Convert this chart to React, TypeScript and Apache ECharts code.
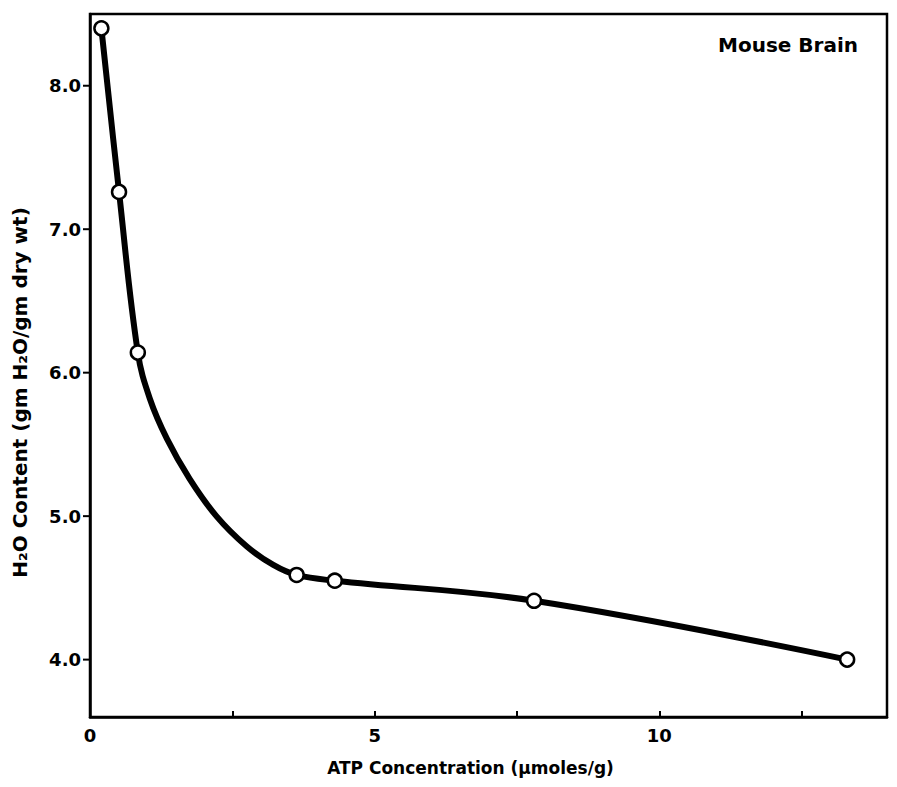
import React, { useEffect, useRef } from "react";
import * as echarts from "echarts";

// Measured data points (ATP concentration, µmoles/g  vs  H2O content, gm H2O/gm dry wt)
const atpValues = [0.2, 0.51, 0.84, 3.63, 4.3, 7.8, 13.3];
const waterValues = [8.4, 7.26, 6.14, 4.59, 4.55, 4.41, 4.0];

// Hand-drawn fitted curve
const curveAtp = [0.2, 0.51, 0.84, 1.05, 1.35, 1.75, 2.22, 2.75, 3.22, 3.63, 4.3, 7.8, 13.3];
const curveWater = [8.4, 7.26, 6.14, 5.82, 5.54, 5.26, 5.0, 4.79, 4.66, 4.59, 4.55, 4.41, 4.0];

// Axis ticks
const xTickLabels = [0, 5, 10];
const yTickValues = [4, 5, 6, 7, 8];

const FONT = "DejaVu Sans";

export default function App() {
  const ref = useRef<HTMLDivElement>(null);

  useEffect(() => {
    if (!ref.current) return;
    const chart = echarts.init(ref.current, null, { renderer: "svg" });
    const option: any = {
      animation: false,
      backgroundColor: "#ffffff",
      textStyle: { fontFamily: FONT },
      grid: {
        left: 90,
        right: 10,
        top: 14,
        bottom: 70,
        show: true,
        borderColor: "#000",
        borderWidth: 2.5,
        backgroundColor: "transparent",
      },
      title: {
        text: "Mouse Brain",
        left: 713,
        top: 30,
        textStyle: { fontFamily: FONT, fontWeight: "bold", fontSize: 20, color: "#000" },
      },
      xAxis: {
        type: "value",
        min: 0,
        max: 14,
        interval: 2.5,
        name: "ATP Concentration (µmoles/g)",
        nameLocation: "middle",
        nameGap: 42,
        nameTextStyle: {
          fontFamily: FONT,
          fontWeight: "bold",
          fontSize: 17,
          color: "#000",
          padding: [0, 36, 0, 0],
        },
        axisLine: { show: true, lineStyle: { color: "#000", width: 2.5 } },
        axisTick: { show: true, inside: true, length: 6, lineStyle: { color: "#000", width: 2 } },
        axisLabel: {
          showMaxLabel: false,
          margin: 9,
          fontFamily: FONT,
          fontWeight: "bold",
          fontSize: 18,
          color: "#000",
          formatter: (v: number) => (xTickLabels.indexOf(v) >= 0 ? String(v) : ""),
        },
        splitLine: { show: false },
      },
      yAxis: {
        type: "value",
        min: 3.6,
        max: 8.5,
        splitNumber: 5,
        name: "H₂O Content (gm H₂O/gm dry wt)",
        nameLocation: "middle",
        nameGap: 60,
        nameRotate: 90,
        nameTextStyle: {
          fontFamily: FONT,
          fontWeight: "bold",
          fontSize: 20,
          color: "#000",
          padding: [0, 54, 0, 0],
        },
        axisLine: { show: true, lineStyle: { color: "#000", width: 2.5 } },
        axisTick: { show: false },
        axisLabel: {
          showMinLabel: false,
          showMaxLabel: false,
          margin: 9,
          fontFamily: FONT,
          fontWeight: "bold",
          fontSize: 18,
          color: "#000",
          formatter: (v: number) =>
            yTickValues.some((t) => Math.abs(t - v) < 1e-6) ? v.toFixed(1) : "",
        },
        splitLine: { show: false },
      },
      series: [
        {
          type: "line",
          data: curveAtp.map((x, i) => [x, curveWater[i]]),
          smooth: 0.4,
          symbol: "none",
          lineStyle: { color: "#000", width: 6 },
          z: 2,
        },
        {
          type: "scatter",
          data: atpValues.map((x, i) => [x, waterValues[i]]),
          symbol: "circle",
          symbolSize: 14,
          itemStyle: { color: "#fff", borderColor: "#000", borderWidth: 2.5, opacity: 1 },
          z: 3,
        },
      ],
    };
    chart.setOption(option);

    const x0 = chart.convertToPixel({ xAxisIndex: 0 }, 0) as number;
    const ticks = yTickValues.map((v) => {
      const y = chart.convertToPixel({ yAxisIndex: 0 }, v) as number;
      return {
        type: "line",
        shape: { x1: x0 - 7, y1: y, x2: x0, y2: y },
        style: { stroke: "#000", lineWidth: 2 },
        z: 10,
      };
    });
    chart.setOption({ graphic: ticks });

    return () => chart.dispose();
  }, []);

  return (
    <div
      ref={ref}
      style={{ position: "fixed", left: 0, top: 0, width: 897, height: 787, background: "#fff" }}
    />
  );
}
